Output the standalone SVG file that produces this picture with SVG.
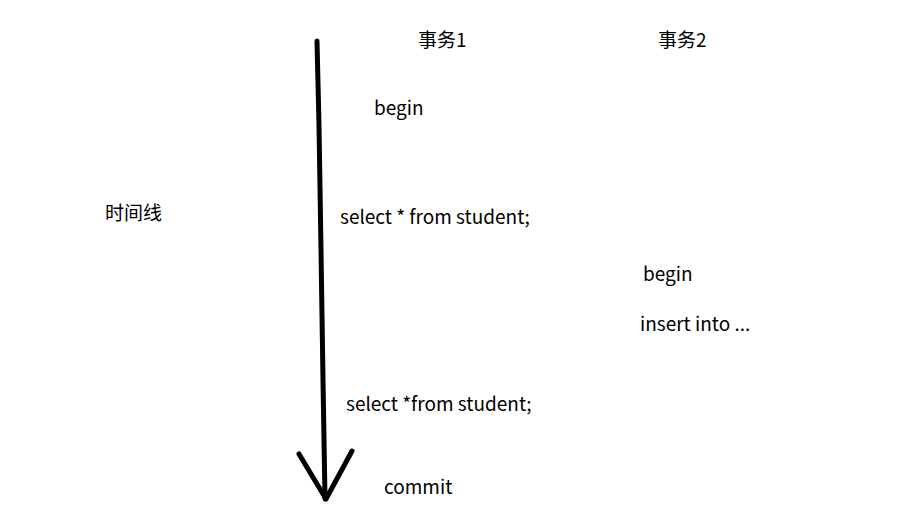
<svg xmlns="http://www.w3.org/2000/svg" width="898" height="528" viewBox="0 0 898 528">
<style>
text{font-family:"Noto Sans CJK SC","Noto Sans",sans-serif;font-size:19px;fill:#000}
.ln{stroke:#000;stroke-width:5;fill:none;stroke-linecap:round;stroke-linejoin:round}
</style>
<rect width="898" height="528" fill="#fff"/>
<g id="connectors">
<path class="ln" d="M317 41 L319 125 L321 250 L323 380 L325 499"/>
<path class="ln" d="M299 454 L326 499 L352 451"/>
</g>
<g id="timeline-label"><text x="105" y="220">时间线</text></g>
<g id="tx1-header"><text x="418" y="47">事务1</text></g>
<g id="tx2-header"><text x="658" y="47">事务2</text></g>
<g id="tx1-begin"><text x="374" y="115">begin</text></g>
<g id="tx1-select1"><text x="340" y="224">select * from student;</text></g>
<g id="tx2-begin"><text x="643" y="281">begin</text></g>
<g id="tx2-insert"><text x="640" y="331">insert into ...</text></g>
<g id="tx1-select2"><text x="346" y="411">select *from student;</text></g>
<g id="tx1-commit"><text x="384" y="494">commit</text></g>
</svg>
